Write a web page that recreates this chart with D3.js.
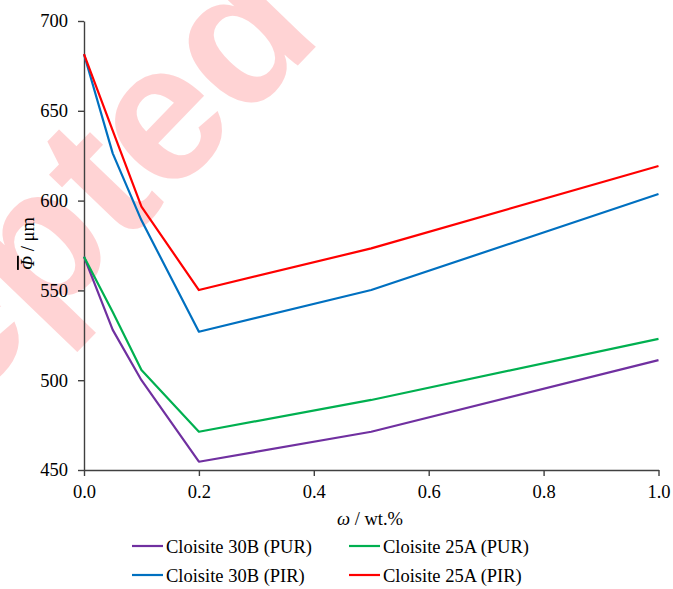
<!DOCTYPE html>
<html>
<head>
<meta charset="utf-8">
<script src="https://cdn.jsdelivr.net/npm/d3@7"></script>
<style>
  body { margin: 0; background: #fff; }
</style>
</head>
<body>
<script>
const w = 673,
  h = 589;

// wt.% of nanoclay
const loadings = [0, 0.05, 0.1, 0.2, 0.5, 1.0];

// mean cell diameter, µm
const pur30B = [568.8, 528, 500, 454.6, 471.3, 511.2];
const pur25A = [568.8, 538, 505.7, 471.3, 489, 523];
const pir30B = [681.5, 626.3, 589, 527, 550.2, 603.7];
const pir25A = [681.5, 639, 596.6, 550.2, 573.4, 619.3];

const seriesNames = ['Cloisite 30B (PUR)', 'Cloisite 25A (PUR)', 'Cloisite 30B (PIR)', 'Cloisite 25A (PIR)'];
const seriesValues = [pur30B, pur25A, pir30B, pir25A];
const seriesColors = ['#7030a0', '#00b050', '#0070c0', '#ff0000'];

const xTicks = [0, 0.2, 0.4, 0.6, 0.8, 1.0];
const yTicks = [450, 500, 550, 600, 650, 700];

const serifFont = 'Liberation Serif';

const xScale = d3.scaleLinear()
  .domain([0, 1])
  .range([84, 658.5]);

const yScale = d3.scaleLinear()
  .domain([450, 700])
  .range([470, 21]);

const svg = d3.select('body')
  .append('svg')
  .attr('width', w)
  .attr('height', h);

// watermark behind everything
svg.append('text')
  .text('Accepted')
  .attr('transform', 'translate(-285, 669) rotate(-46)')
  .attr('text-anchor', 'start')
  .style('font-family', 'Liberation Sans')
  .style('font-weight', 'bold')
  .style('font-size', '195px')
  .attr('fill', '#ffd3d4');

const xAxis = d3.axisBottom(xScale)
  .tickValues(xTicks)
  .tickFormat(d3.format('.1f'))
  .tickSizeInner(6)
  .tickSizeOuter(0)
  .tickPadding(9);

const yAxis = d3.axisLeft(yScale)
  .tickValues(yTicks)
  .tickSizeInner(6)
  .tickSizeOuter(0)
  .tickPadding(10);

const gx = svg.append('g')
  .attr('transform', `translate(0, ${yScale(450)})`)
  .call(xAxis);

const gy = svg.append('g')
  .attr('transform', `translate(${xScale(0)}, 0)`)
  .call(yAxis);

[gx, gy].forEach(g => {
  g.select('.domain').attr('stroke', '#404040').attr('stroke-width', 1.4);
  g.selectAll('.tick line').attr('stroke', '#404040').attr('stroke-width', 1.4);
  g.selectAll('.tick text')
    .attr('fill', '#000')
    .style('font-family', serifFont)
    .style('font-size', '18.5px');
});

const line = d3.line()
  .x((_, i) => xScale(loadings[i]))
  .y(d => yScale(d));

svg.selectAll('path.series')
  .data(seriesValues)
  .enter()
  .append('path')
  .attr('class', 'series')
  .attr('d', d => line(d))
  .attr('fill', 'none')
  .attr('stroke', (_, i) => seriesColors[i])
  .attr('stroke-width', 2.2)
  .attr('stroke-linejoin', 'round');

// axis titles
svg.append('text')
  .attr('x', 370)
  .attr('y', 525)
  .attr('text-anchor', 'middle')
  .style('font-family', serifFont)
  .style('font-size', '18.5px')
  .html('<tspan font-style="italic">ω</tspan> / wt.%');

svg.append('text')
  .attr('transform', `translate(34, ${(yScale(450) + yScale(700)) / 2 - 2}) rotate(-90)`)
  .attr('text-anchor', 'middle')
  .style('font-family', serifFont)
  .style('font-size', '18.5px')
  .html('<tspan font-style="italic" text-decoration="overline">Φ</tspan> / μm');

// legend
const legendX = [132, 349];
const legendY = [546, 575];

const legend = svg.selectAll('g.legend')
  .data(seriesNames)
  .enter()
  .append('g')
  .attr('class', 'legend')
  .attr('transform', (_, i) => `translate(${legendX[i % 2]}, ${legendY[Math.floor(i / 2)]})`);

legend.append('line')
  .attr('x1', 0)
  .attr('x2', 31)
  .attr('stroke', (_, i) => seriesColors[i])
  .attr('stroke-width', 2.2);

legend.append('text')
  .attr('x', 34)
  .attr('y', 6.5)
  .style('font-family', serifFont)
  .style('font-size', '18.5px')
  .text(d => d);
</script>
</body>
</html>
